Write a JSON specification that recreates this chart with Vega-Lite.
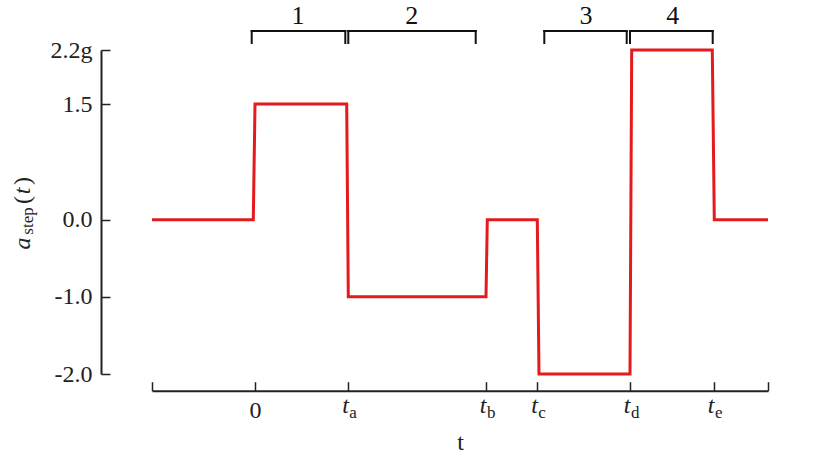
{
  "$schema": "https://vega.github.io/schema/vega-lite/v6.json",
  "width": 616,
  "height": 324,
  "autosize": {"type": "none"},
  "padding": {"left": 152, "top": 50, "right": 63, "bottom": 92},
  "background": "white",
  "config": {
    "view": {"stroke": null},
    "font": "Liberation Serif",
    "axis": {
      "labelFont": "Liberation Serif",
      "labelFontSize": 24,
      "labelColor": "#222",
      "titleFont": "Liberation Serif",
      "titleFontSize": 24,
      "titleFontWeight": "normal",
      "titleColor": "#222",
      "domainColor": "#222",
      "domainWidth": 2,
      "tickColor": "#222",
      "tickWidth": 1.5,
      "tickSize": -9,
      "grid": false,
      "labelFlush": false,
      "labelOverlap": false,
      "labelBound": false
    }
  },
  "datasets": {
    "signal": [
      {"t": -1.03, "a": 0},
      {"t": -0.017, "a": 0},
      {"t": 0, "a": 1.5},
      {"t": 0.917, "a": 1.5},
      {"t": 0.933, "a": -1},
      {"t": 2.31, "a": -1},
      {"t": 2.323, "a": 0},
      {"t": 2.823, "a": 0},
      {"t": 2.84, "a": -2},
      {"t": 3.75, "a": -2},
      {"t": 3.767, "a": 2.2},
      {"t": 4.573, "a": 2.2},
      {"t": 4.593, "a": 0},
      {"t": 5.13, "a": 0}
    ],
    "subs": [
      {"t": 0.933, "s": "a"},
      {"t": 2.31, "s": "b"},
      {"t": 2.823, "s": "c"},
      {"t": 3.75, "s": "d"},
      {"t": 4.59, "s": "e"}
    ],
    "brackets": [
      {"x1": -0.033, "x2": 0.903, "lx": 0.43, "lab": "1"},
      {"x1": 0.933, "x2": 2.207, "lx": 1.567, "lab": "2"},
      {"x1": 2.893, "x2": 3.717, "lx": 3.31, "lab": "3"},
      {"x1": 3.75, "x2": 4.577, "lx": 4.177, "lab": "4"}
    ],
    "titleItalic": [
      {"s": "a", "p": -0.308},
      {"s": "t", "p": 0.372}
    ],
    "titleUpright": [
      {"s": "(", "p": 0.2556},
      {"s": ")", "p": 0.5019}
    ],
    "titleSub": [
      {"s": "step", "p": -0.017}
    ]
  },
  "layer": [
    {
      "data": {"name": "signal"},
      "mark": {"type": "line", "color": "#e41a1c", "strokeWidth": 3, "strokeJoin": "miter"},
      "encoding": {
        "x": {
          "field": "t",
          "type": "quantitative",
          "scale": {"domain": [-1.03, 5.13], "nice": false, "zero": false},
          "axis": {
            "title": "t",
            "values": [-1.03, 0, 0.933, 2.31, 2.823, 3.75, 4.59, 5.13],
            "labelExpr": "datum.value < -1 || datum.value > 5 ? '' : (datum.value == 0 ? '0' : 't')",
            "labelFontStyle": {"condition": {"test": "datum.value == 0", "value": "normal"}, "value": "italic"},
            "labelAlign": {"condition": {"test": "datum.value == 0", "value": "center"}, "value": "right"},
            "labelPadding": {"condition": {"test": "datum.value == 0", "value": 36}, "value": 31},
            "labelBaseline": "alphabetic",
            "offset": 16.7,
            "titlePadding": 8
          }
        },
        "y": {
          "field": "a",
          "type": "quantitative",
          "scale": {"domain": [-2, 2.2], "nice": false, "zero": false},
          "axis": {
            "title": null,
            "values": [-2, -1, 0, 1.5, 2.2],
            "labelExpr": "datum.value == 2.2 ? '2.2g' : datum.value == 1.5 ? '1.5' : datum.value == 0 ? '0.0' : datum.value == -1 ? '-1.0' : '-2.0'",
            "labelBaseline": "middle",
            "labelPadding": 18,
            "offset": 51
          }
        }
      }
    },
    {
      "data": {"name": "subs"},
      "mark": {"type": "text", "align": "left", "baseline": "alphabetic", "dx": 1, "fontSize": 17, "font": "Liberation Serif", "color": "#222"},
      "encoding": {
        "x": {"field": "t", "type": "quantitative"},
        "y": {"datum": -2.564},
        "text": {"field": "s"}
      }
    },
    {
      "data": {"name": "brackets"},
      "mark": {"type": "rule", "color": "#111", "strokeWidth": 2, "strokeCap": "square"},
      "encoding": {
        "x": {"field": "x1", "type": "quantitative"},
        "x2": {"field": "x2"},
        "y": {"datum": 2.446}
      }
    },
    {
      "data": {"name": "brackets"},
      "mark": {"type": "rule", "color": "#111", "strokeWidth": 2, "strokeCap": "square"},
      "encoding": {
        "x": {"field": "x1", "type": "quantitative"},
        "y": {"datum": 2.291},
        "y2": {"datum": 2.446}
      }
    },
    {
      "data": {"name": "brackets"},
      "mark": {"type": "rule", "color": "#111", "strokeWidth": 2, "strokeCap": "square"},
      "encoding": {
        "x": {"field": "x2", "type": "quantitative"},
        "y": {"datum": 2.291},
        "y2": {"datum": 2.446}
      }
    },
    {
      "data": {"name": "brackets"},
      "mark": {"type": "text", "align": "center", "baseline": "alphabetic", "fontSize": 26, "font": "Liberation Serif", "color": "#111"},
      "encoding": {
        "x": {"field": "lx", "type": "quantitative"},
        "y": {"datum": 2.537},
        "text": {"field": "lab"}
      }
    },
    {
      "data": {"name": "titleItalic"},
      "mark": {"type": "text", "angle": 270, "align": "center", "baseline": "alphabetic", "fontSize": 24, "fontStyle": "italic", "font": "Liberation Serif", "color": "#222"},
      "encoding": {
        "x": {"datum": -2.25},
        "y": {"field": "p", "type": "quantitative"},
        "text": {"field": "s"}
      }
    },
    {
      "data": {"name": "titleUpright"},
      "mark": {"type": "text", "angle": 270, "align": "center", "baseline": "alphabetic", "fontSize": 24, "font": "Liberation Serif", "color": "#222"},
      "encoding": {
        "x": {"datum": -2.25},
        "y": {"field": "p", "type": "quantitative"},
        "text": {"field": "s"}
      }
    },
    {
      "data": {"name": "titleSub"},
      "mark": {"type": "text", "angle": 270, "align": "center", "baseline": "alphabetic", "fontSize": 17, "font": "Liberation Serif", "color": "#222"},
      "encoding": {
        "x": {"datum": -2.22},
        "y": {"field": "p", "type": "quantitative"},
        "text": {"field": "s"}
      }
    }
  ]
}
